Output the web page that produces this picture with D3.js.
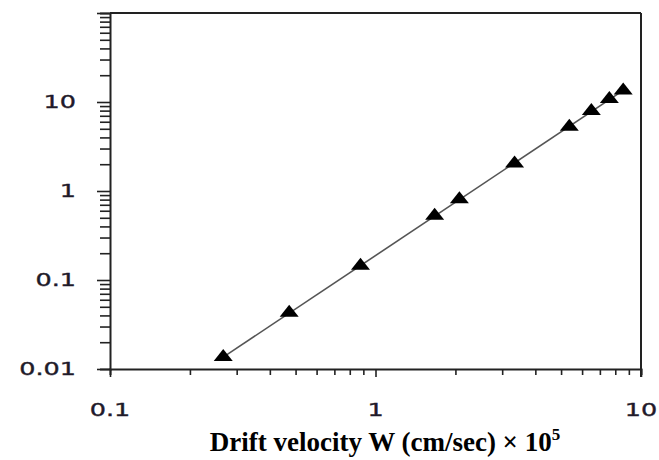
<!DOCTYPE html>
<html>
<head>
<meta charset="utf-8">
<script src="https://cdn.jsdelivr.net/npm/d3@7"></script>
<style>
  html, body { margin: 0; padding: 0; background: #fff; }
  svg { display: block; }
</style>
</head>
<body>
<svg id="chart" width="659" height="460"></svg>
<script>
// Data (log-log plot)
const velocity = [0.267, 0.473, 0.878, 1.67, 2.07, 3.34, 5.37, 6.5, 7.6, 8.57];
const response = [0.0136, 0.0428, 0.145, 0.526, 0.81, 2.04, 5.27, 7.93, 10.8, 13.5];
const fitVelocity = [0.267, 8.57];
const fitResponse = [0.0136, 13.5];
const xTickValues = [0.1, 1, 10];
const xTickLabels = ["0.1", "1", "10"];
const yTickValues = [0.01, 0.1, 1, 10];
const yTickLabels = ["0.01", "0.1", "1", "10"];
const xTitle = "Drift velocity W (cm/sec) \u00d7 10";
const xTitleSup = "5";

(function () {
const svg = d3.select("#chart");
const mLeft = 110, mRight = 641, mTop = 13, mBottom = 369;

const x = d3.scaleLog().domain([0.1, 10]).range([mLeft, mRight]);
const y = d3.scaleLog().domain([0.01, 100]).range([mBottom, mTop]);

const ink = "#222";
const labelColor = "#1f1a2a";

const minorX = [];
for (const d of [0.1, 1]) for (let k = 1; k <= 9; k++) minorX.push(d * k);
minorX.push(10);
const minorY = [];
for (const d of [0.01, 0.1, 1, 10]) for (let k = 1; k <= 9; k++) minorY.push(d * k);
minorY.push(100);
const isMajor = v => Math.abs(Math.log10(v) - Math.round(Math.log10(v))) < 1e-9;

// Frame top & right
svg.append("line").attr("x1", mLeft).attr("x2", mRight).attr("y1", mTop).attr("y2", mTop)
  .attr("stroke", ink).attr("stroke-width", 2);
svg.append("line").attr("x1", mRight).attr("x2", mRight).attr("y1", mTop).attr("y2", mBottom + 8)
  .attr("stroke", ink).attr("stroke-width", 2);

// Left axis
const yAxis = svg.append("g").attr("transform", `translate(${mLeft},0)`)
  .call(d3.axisLeft(y).tickValues(minorY).tickFormat("").tickSizeOuter(0).tickSize(10));
yAxis.select(".domain").attr("stroke", ink).attr("stroke-width", 2);
yAxis.selectAll(".tick line").attr("stroke", ink).attr("stroke-width", 1.6)
  .attr("x2", d => isMajor(d) ? -13 : -10);

// Bottom axis
const xAxis = svg.append("g").attr("transform", `translate(0,${mBottom})`)
  .call(d3.axisBottom(x).tickValues(minorX).tickFormat("").tickSizeOuter(0).tickSize(6));
xAxis.select(".domain").attr("stroke", ink).attr("stroke-width", 2);
xAxis.selectAll(".tick line").attr("stroke", ink).attr("stroke-width", 1.6)
  .attr("y2", d => isMajor(d) ? 8 : 6);

// Tick labels (stretched horizontally like the reference)
const sx = 1.5;
svg.append("g").selectAll("text").data(yTickValues).join("text")
  .attr("transform", d => `translate(76,${y(d)}) scale(${sx},1)`)
  .attr("text-anchor", "end").attr("dy", "0.36em")
  .attr("font-family", "DejaVu Sans, Verdana, sans-serif").attr("font-size", 17)
  .attr("fill", labelColor).attr("stroke", labelColor).attr("stroke-width", 0.35)
  .text((d, i) => yTickLabels[i]);

svg.append("g").selectAll("text").data(xTickValues).join("text")
  .attr("transform", d => `translate(${x(d)},416) scale(${sx},1)`)
  .attr("text-anchor", "middle")
  .attr("font-family", "DejaVu Sans, Verdana, sans-serif").attr("font-size", 17)
  .attr("fill", labelColor).attr("stroke", labelColor).attr("stroke-width", 0.35)
  .text((d, i) => xTickLabels[i]);

// Fit line
svg.append("path")
  .datum(fitVelocity.map((v, i) => [v, fitResponse[i]]))
  .attr("d", d3.line().x(d => x(d[0])).y(d => y(d[1])))
  .attr("fill", "none").attr("stroke", "#555").attr("stroke-width", 1.6);

// Triangle markers
const tri = "M0,-8 L9.5,4 L-9.5,4 Z";
svg.append("g").selectAll("path").data(velocity.map((v, i) => [v, response[i]])).join("path")
  .attr("transform", d => `translate(${x(d[0])},${y(d[1])})`)
  .attr("d", tri).attr("fill", "#000");

// X title
const t = svg.append("text")
  .attr("x", 385).attr("y", 451)
  .attr("text-anchor", "middle")
  .attr("font-family", "Liberation Serif, Times New Roman, serif")
  .attr("font-weight", "bold").attr("font-size", 27)
  .attr("fill", "#000");
t.append("tspan").text(xTitle);
t.append("tspan").attr("font-size", 17).attr("dy", -11).text(xTitleSup);
})();
</script>
</body>
</html>
